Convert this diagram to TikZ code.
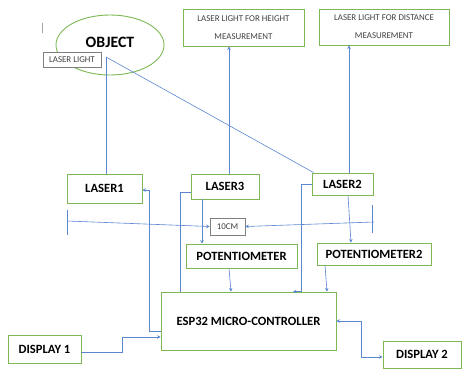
\documentclass[tikz,border=0pt]{standalone}
\usepackage{fontspec}
\setmainfont{Carlito}
\usetikzlibrary{shapes.geometric,arrows.meta}
\definecolor{bgreen}{HTML}{7DB855}
\definecolor{lblue}{HTML}{5B86D0}
\definecolor{bgray}{HTML}{7F7F7F}
\definecolor{tgray}{HTML}{404040}
\tikzset{
  gbox/.style={draw=bgreen,line width=0.9pt,fill=white,rectangle,inner sep=0pt,
    font=\bfseries\fontsize{12.6}{14}\selectfont},
  sbox/.style={draw=bgray,line width=0.6pt,fill=white,rectangle,inner sep=0pt,
    text=tgray,font=\fontsize{8.9}{10}\selectfont},
  tbox/.style={draw=bgreen,line width=0.9pt,fill=white,rectangle,inner sep=0pt,
    text=tgray,align=center,font=\fontsize{8.9}{18}\selectfont},
  conn/.style={draw=lblue,line width=0.6pt},
  arr/.style={conn,-{Stealth[length=3.5pt,width=3.5pt]}},
  arrb/.style={conn,{Stealth[length=3.5pt,width=3.5pt]}-{Stealth[length=3.5pt,width=3.5pt]}}
}
\begin{document}
\begin{tikzpicture}[x=1pt,y=-1pt]
\useasboundingbox (0,0) rectangle (462,369);
% cursor mark
\draw[gray!70,line width=0.8pt] (42,23) -- (42,33);
% object
\node[ellipse,draw=bgreen,line width=0.9pt,minimum width=108pt,minimum height=60pt,inner sep=0pt] (obj) at (110,45) {};
\node[font=\bfseries\fontsize{15.8}{18}\selectfont] (objtxt) at (110,42) {OBJECT};
\node[sbox,minimum width=58pt,minimum height=15pt] (ll) at (72,59.5) {LASER LIGHT};
\coordinate (llpt) at (106,57);
% top boxes
\node[tbox,minimum width=121pt,minimum height=37pt] (hbox) at (243.5,27.5) {LASER LIGHT FOR HEIGHT\\MEASUREMENT};
\node[tbox,minimum width=130pt,minimum height=36pt] (dbox) at (384,27) {LASER LIGHT FOR DISTANCE\\MEASUREMENT};
% lasers
\node[gbox,minimum width=75pt,minimum height=29pt] (laser1) at (104.5,188.5) {LASER1};
\node[gbox,minimum width=68pt,minimum height=25pt] (laser3) at (225,186.5) {LASER3};
\node[gbox,minimum width=61pt,minimum height=22pt] (laser2) at (342.5,184) {LASER2};
% 10cm
\node[sbox,minimum width=35pt,minimum height=17pt] (cm) at (227.5,226.5) {10CM};
% potentiometers
\node[gbox,minimum width=111pt,minimum height=24pt] (pot) at (241.5,256) {POTENTIOMETER};
\node[gbox,minimum width=114pt,minimum height=22pt] (pot2) at (374,254) {POTENTIOMETER2};
% esp
\node[gbox,minimum width=175pt,minimum height=58pt] (esp) at (248.5,321) {ESP32 MICRO-CONTROLLER};
% displays
\node[gbox,minimum width=73pt,minimum height=28pt] (d1) at (44.5,349) {DISPLAY 1};
\node[gbox,minimum width=78pt,minimum height=27pt] (d2) at (422,354.5) {DISPLAY 2};
% ruler
\coordinate (rl1) at (67,210); \coordinate (rl2) at (67,235);
\coordinate (rr1) at (372,205); \coordinate (rr2) at (372,233);
\coordinate (rl) at (67,221); \coordinate (rr) at (374,222);
\draw[conn] (rl1) -- (rl2);
\draw[conn] (rr1) -- (rr2);
\draw[arr] (rl) -- (cm.west);
\draw[arr] (rr) -- (cm.east);
% laser light lines
\draw[conn] (llpt) -- (llpt |- laser1.north);
\draw[conn] (llpt) -- ([xshift=2pt]laser2.north west);
% lasers to top boxes
\draw[arr] ([xshift=4pt]laser3.north) -- ([xshift=4pt]laser3.north |- hbox.south);
\draw[arr] ([xshift=6.5pt]laser2.north) -- ([xshift=6.5pt]laser2.north |- dbox.south);
% esp to laser1
\draw[arr] ([yshift=-10pt]esp.west) -| ([xshift=7pt,yshift=-1.5pt]laser1.east) -- ([yshift=-1.5pt]laser1.east);
% laser3 to esp
\draw[conn] ([yshift=-5.5pt]laser3.west) -| ([xshift=-68.5pt]esp.north);
\draw[arr] ([xshift=-23pt]laser3.south) -- ([xshift=-23pt]laser3.south |- pot.north);
\draw[arr] ([xshift=-12.5pt]pot.south) -- ([xshift=-17.5pt]esp.north);
% laser2 to esp
\draw[arr] (laser2.west) -| ([xshift=52.5pt]esp.north) -- ([xshift=44.5pt]esp.north);
\draw[arr] ([xshift=5.5pt]laser2.south) -- ([xshift=-23pt]pot2.north);
\draw[arr] ([xshift=-49pt]pot2.south) -- ([xshift=78.5pt]esp.north);
% displays
\draw[arr] ([yshift=-3pt]d1.east) -- ++(41,0) |- ([yshift=-16pt]esp.west);
\draw[arrb] (esp.east) -- ++(25,0) |- ([yshift=-2.5pt]d2.west);
\end{tikzpicture}
\end{document}
